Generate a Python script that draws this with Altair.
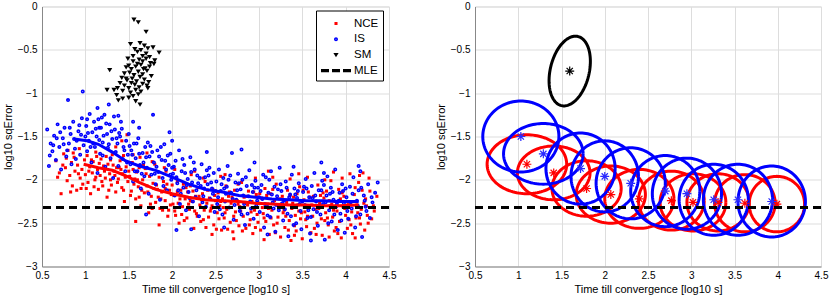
import altair as alt
import numpy as np
import pandas as pd

FONT = "Liberation Sans"

# ---------------- axes ----------------
X_TICKS = [0.5, 1, 1.5, 2, 2.5, 3, 3.5, 4, 4.5]
Y_TICKS = [-3, -2.5, -2, -1.5, -1, -0.5, 0]
X_DOMAIN = [0.5, 4.5]
Y_DOMAIN = [-3, 0]
X_TITLE = "Time till convergence [log10 s]"
Y_TITLE = "log10 sqError"
MLE_LEVEL = -2.32

SERIES = ["NCE", "IS", "SM", "MLE"]
SERIES_COLORS = ["#ff0000", "#0000ff", "#000000", "#000000"]

# ---------------- left panel: scatter ----------------
nce_points = [
    (0.66,-1.78),(0.70,-1.92),(0.72,-2.16),(0.75,-1.70),(0.77,-1.86),(0.79,-2.01),(0.80,-1.66),(0.82,-1.95),
    (0.84,-1.80),(0.85,-2.07),(0.87,-1.74),(0.88,-1.90),(0.90,-2.12),(0.91,-1.83),(0.93,-1.64),(0.94,-1.98),
    (0.96,-1.88),(0.97,-2.05),(0.99,-1.77),(1.00,-1.94),
    (1.02,-1.72),(1.03,-2.03),(1.05,-1.85),(1.06,-2.16),(1.08,-1.92),(1.09,-1.79),(1.11,-2.00),(1.12,-1.68),
    (1.14,-1.88),(1.15,-2.11),(1.17,-1.95),(1.18,-1.76),(1.20,-2.07),(1.21,-1.84),(1.23,-1.98),(1.25,-2.20),
    (1.26,-1.82),(1.28,-1.93),(1.30,-2.06),(1.31,-1.71),(1.33,-1.90),(1.35,-2.14),(1.36,-1.86),(1.38,-1.99),
    (1.40,-1.78),(1.42,-2.09),(1.43,-1.93),(1.45,-2.25),(1.47,-1.85),(1.49,-2.02),(1.48,-1.48),(1.42,-1.55),
    (1.35,-1.62),
    (1.51,-1.96),(1.53,-2.13),(1.54,-1.80),(1.56,-2.05),(1.58,-2.22),(1.59,-1.91),(1.61,-2.08),(1.63,-1.74),
    (1.64,-2.30),(1.66,-2.00),(1.68,-2.15),(1.69,-1.87),(1.71,-2.07),(1.73,-2.38),(1.74,-1.96),(1.76,-2.19),
    (1.78,-2.04),(1.80,-1.82),(1.81,-2.26),(1.83,-2.11),(1.85,-1.97),(1.86,-2.33),(1.88,-2.14),(1.90,-2.02),
    (1.92,-2.24),(1.93,-1.90),(1.95,-2.42),(1.97,-2.12),(1.98,-2.29),(2.00,-2.06),(1.58,-2.48),(1.85,-2.52),
    (2.02,-2.18),(2.03,-2.36),(2.05,-1.98),(2.07,-2.27),(2.08,-2.50),(2.10,-2.12),(2.12,-2.31),(2.13,-2.05),
    (2.15,-2.22),(2.17,-2.44),(2.18,-2.14),(2.20,-2.34),(2.22,-1.94),(2.23,-2.25),(2.25,-2.56),(2.27,-2.19),
    (2.28,-2.39),(2.30,-2.09),(2.32,-2.29),(2.33,-2.48),(2.35,-2.16),(2.37,-2.35),(2.38,-2.02),(2.40,-2.27),
    (2.42,-2.43),(2.43,-2.21),(2.45,-2.33),(2.47,-2.11),(2.48,-2.52),(2.50,-2.24),
    (2.52,-2.38),(2.53,-2.15),(2.55,-2.30),(2.57,-2.58),(2.58,-2.22),(2.60,-2.44),(2.62,-2.07),(2.63,-2.34),
    (2.65,-2.19),(2.67,-2.49),(2.68,-2.27),(2.70,-2.60),(2.72,-2.12),(2.73,-2.37),(2.75,-2.24),(2.77,-2.53),
    (2.78,-2.31),(2.80,-2.03),(2.82,-2.42),(2.83,-2.20),(2.85,-2.56),(2.87,-2.29),(2.88,-2.13),(2.90,-2.46),
    (2.92,-2.25),(2.93,-2.62),(2.95,-2.35),(2.97,-2.17),(2.98,-2.40),(3.00,-2.27),
    (3.02,-2.58),(3.03,-2.21),(3.05,-2.39),(3.07,-2.10),(3.08,-2.48),(3.10,-2.28),(3.12,-2.63),(3.13,-2.16),
    (3.15,-2.35),(3.17,-2.52),(3.18,-2.24),(3.20,-2.05),(3.22,-2.43),(3.23,-2.31),(3.25,-2.66),(3.27,-2.19),
    (3.28,-2.38),(3.30,-2.55),(3.32,-2.26),(3.33,-2.12),(3.35,-2.47),(3.37,-2.70),(3.38,-2.33),(3.40,-2.20),
    (3.42,-2.41),(3.43,-2.59),(3.45,-2.29),(3.47,-2.08),(3.48,-2.45),(3.50,-2.68),
    (3.52,-2.23),(3.53,-2.37),(3.55,-2.54),(3.57,-2.14),(3.58,-2.30),(3.60,-2.61),(3.62,-2.42),(3.63,-2.19),
    (3.65,-2.34),(3.67,-2.50),(3.68,-2.06),(3.70,-2.27),(3.72,-2.45),(3.73,-2.64),(3.75,-2.21),(3.77,-2.38),
    (3.78,-2.13),(3.80,-2.52),(3.82,-2.30),(3.83,-2.01),(3.85,-2.43),(3.87,-2.59),(3.88,-2.25),(3.90,-2.36),
    (3.92,-2.11),(3.93,-2.48),(3.95,-2.67),(3.97,-2.31),(3.98,-2.19),(4.00,-2.41),
    (4.02,-2.56),(4.03,-2.26),(4.05,-1.93),(4.07,-2.37),(4.08,-2.62),(4.10,-2.17),(4.12,-2.44),(4.13,-2.29),
    (4.15,-2.03),(4.17,-2.51),(4.18,-2.34),(4.20,-1.92),(4.22,-2.58),(4.23,-2.22),(4.25,-2.41),(4.28,-2.13),
    (4.32,-2.30),(4.36,-2.19),
    (0.74,-1.83),(0.86,-1.69),(0.95,-2.10),(1.04,-1.90),(1.10,-2.08),(1.16,-1.81),(1.22,-1.90),(1.27,-2.12),
    (1.32,-1.83),(1.37,-2.03),(1.41,-1.88),(1.46,-1.97),(1.52,-2.18),(1.55,-1.88),(1.60,-2.00),(1.65,-2.12),
    (1.70,-1.93),(1.75,-2.28),(1.79,-2.10),(1.84,-2.20),(1.89,-2.35),(1.94,-2.05),(1.99,-2.17),(2.04,-2.41),
    (2.09,-2.22),(2.14,-2.47),(2.19,-2.28),(2.24,-2.13),(2.29,-2.42),(2.34,-2.23),(2.39,-2.55),(2.44,-2.36),
    (2.49,-2.18),(2.54,-2.45),(2.59,-2.32),(2.64,-2.57),(2.69,-2.20),(2.74,-2.47),(2.79,-2.36),(2.84,-2.26),
    (2.89,-2.52),(2.94,-2.14),(2.99,-2.49),(3.04,-2.32),(3.09,-2.18),(3.14,-2.44),(3.19,-2.61),(3.24,-2.22),
    (3.29,-2.35),(3.34,-2.58),(3.39,-2.27),(3.44,-2.16),(3.49,-2.38),(3.54,-2.46),(3.59,-2.20),(3.64,-2.56),
    (3.69,-2.33),(3.74,-2.15),(3.79,-2.44),(3.84,-2.28),(3.89,-2.55),(3.94,-2.22),(3.99,-2.33),(4.04,-2.46),
    (4.09,-2.25),(4.14,-2.38),(4.19,-2.12),(4.24,-2.30),(4.30,-2.45),(1.13,-1.73),(1.29,-1.77),(1.44,-1.72),
    (1.62,-1.86),(1.77,-1.79),(1.91,-1.86),(2.06,-2.02),(2.21,-2.07),(2.36,-1.98),(2.56,-1.96),(2.76,-2.05),
    (2.96,-1.98),(3.16,-1.97),(3.36,-1.99),(3.56,-1.97),(3.76,-2.00),(3.96,-1.98),(4.16,-1.95),(2.46,-2.63),
    (2.71,-2.68),(3.06,-2.69),(3.41,-2.64),(3.81,-2.66),(4.11,-2.67),
    (0.68,-1.97),(0.78,-1.75),(0.83,-2.14),(0.92,-1.93),(1.01,-2.10),(1.07,-1.77),(1.12,-1.97),(1.19,-2.02),
    (1.24,-1.73),(1.29,-2.00),(1.34,-1.95),(1.39,-1.86),(1.44,-2.12),(1.50,-1.90),(1.57,-1.99),(1.62,-2.20),
    (1.67,-1.83),(1.72,-2.14),(1.77,-2.33),(1.82,-2.06),(1.87,-2.22),(1.92,-2.10),(1.96,-2.35),(2.01,-2.28),
    (2.06,-2.14),(2.11,-2.40),(2.16,-2.09),(2.21,-2.24),(2.26,-2.36),(2.31,-2.19),(2.36,-2.46),(2.41,-2.12),
    (2.46,-2.30),(2.51,-2.57),(2.56,-2.25),(2.61,-2.38),(2.66,-2.14),(2.71,-2.42),(2.76,-2.28),(2.81,-2.59),
    (2.86,-2.19),(2.91,-2.37),(2.96,-2.55),(3.01,-2.16),(3.06,-2.44),(3.11,-2.33),(3.16,-2.11),(3.21,-2.50),
    (3.26,-2.28),(3.31,-2.42),(3.36,-2.18),(3.41,-2.53),(3.46,-2.36),(3.51,-2.12),(3.56,-2.42),(3.61,-2.29),
    (3.66,-2.63),(3.71,-2.18),(3.76,-2.47),(3.81,-2.24),(3.86,-2.35),(3.91,-2.62),(3.96,-2.15),(4.01,-2.31),
    (4.06,-2.52),(4.11,-2.09),(4.16,-2.44),(4.21,-2.27),(4.26,-2.50),(4.33,-2.36),(1.55,-1.71),(1.71,-1.69),
    (2.03,-1.88),(2.26,-1.90),(2.61,-1.94),(3.11,-1.90),(3.46,-1.93),(3.86,-1.91),(4.27,-1.98),
]

is_points = [
    (0.56,-1.42),(0.58,-1.84),(0.60,-1.58),(0.62,-1.67),(0.64,-1.49),(0.66,-1.77),(0.68,-1.36),(0.70,-1.62),
    (0.72,-1.88),(0.74,-1.52),(0.76,-1.40),(0.78,-1.73),(0.80,-1.08),(0.81,-1.58),(0.83,-1.47),(0.84,-1.82),
    (0.86,-1.33),(0.88,-1.64),(0.90,-1.55),(0.92,-1.44),(0.94,-1.71),(0.96,-1.29),(0.97,-0.98),(0.98,-1.60),
    (1.00,-1.50),
    (1.01,-1.38),(1.02,-1.67),(1.04,-1.55),(1.05,-1.24),(1.07,-1.80),(1.08,-1.45),(1.10,-1.33),(1.11,-1.62),
    (1.13,-1.50),(1.14,-1.92),(1.16,-1.40),(1.17,-1.70),(1.19,-1.28),(1.20,-1.57),(1.22,-1.25),(1.23,-1.85),
    (1.25,-1.47),(1.26,-1.63),(1.28,-1.36),(1.29,-1.75),(1.31,-1.53),(1.32,-1.98),(1.34,-1.42),(1.35,-1.68),
    (1.37,-1.58),(1.38,-1.84),(1.40,-1.50),(1.41,-1.33),(1.43,-1.76),(1.44,-1.62),(1.46,-1.90),(1.47,-1.55),
    (1.49,-1.71),(1.27,-1.13),(1.18,-1.40),
    (1.50,-1.47),(1.52,-1.82),(1.53,-1.66),(1.55,-2.02),(1.56,-1.58),(1.58,-1.75),(1.60,-1.90),(1.61,-1.52),
    (1.63,-1.83),(1.64,-2.10),(1.66,-1.69),(1.68,-1.96),(1.69,-1.62),(1.71,-1.86),(1.73,-2.16),(1.74,-1.73),
    (1.76,-1.94),(1.78,-1.25),(1.79,-1.80),(1.81,-2.05),(1.83,-1.66),(1.84,-1.91),(1.86,-2.23),(1.88,-1.77),
    (1.89,-1.98),(1.91,-1.59),(1.93,-1.88),(1.94,-2.12),(1.96,-1.83),(1.98,-1.70),(1.99,-2.00),(1.97,-1.45),
    (1.70,-2.40),
    (2.01,-1.93),(2.03,-2.18),(2.04,-1.78),(2.06,-2.04),(2.08,-1.66),(2.09,-2.28),(2.11,-1.90),(2.13,-2.09),
    (2.14,-1.83),(2.16,-2.35),(2.18,-1.99),(2.19,-2.14),(2.21,-1.74),(2.23,-2.03),(2.24,-2.25),(2.26,-1.88),
    (2.28,-2.12),(2.29,-1.95),(2.31,-2.42),(2.33,-2.07),(2.34,-1.82),(2.36,-2.19),(2.38,-1.97),(2.39,-2.31),
    (2.41,-2.05),(2.43,-1.86),(2.44,-2.22),(2.46,-2.10),(2.48,-1.92),(2.49,-2.37),(2.22,-2.57),(2.05,-2.58),
    (2.51,-2.02),(2.53,-2.20),(2.54,-1.88),(2.56,-2.13),(2.58,-2.40),(2.59,-1.98),(2.61,-2.25),(2.63,-2.08),
    (2.64,-1.84),(2.66,-2.32),(2.68,-2.15),(2.69,-1.69),(2.71,-2.46),(2.73,-2.03),(2.74,-2.23),(2.76,-1.93),
    (2.78,-2.36),(2.79,-2.11),(2.81,-2.00),(2.83,-2.28),(2.84,-2.52),(2.86,-2.07),(2.88,-2.19),(2.89,-1.89),
    (2.91,-2.33),(2.93,-2.14),(2.94,-2.45),(2.96,-2.01),(2.98,-2.24),(2.99,-2.09),(2.80,-1.65),
    (3.01,-2.37),(3.03,-2.06),(3.04,-2.22),(3.06,-2.55),(3.08,-1.97),(3.09,-2.30),(3.11,-2.15),(3.13,-2.43),
    (3.14,-1.90),(3.16,-2.26),(3.18,-2.08),(3.19,-2.60),(3.21,-2.19),(3.23,-2.35),(3.24,-1.86),(3.26,-2.13),
    (3.28,-2.47),(3.29,-2.24),(3.31,-2.02),(3.33,-2.39),(3.34,-2.65),(3.36,-2.17),(3.38,-1.94),(3.39,-2.31),
    (3.41,-2.10),(3.43,-2.50),(3.44,-2.21),(3.46,-2.04),(3.48,-2.36),(3.49,-2.57),
    (3.51,-2.14),(3.53,-2.29),(3.54,-1.99),(3.56,-2.44),(3.58,-2.20),(3.59,-2.62),(3.61,-2.07),(3.63,-2.34),
    (3.64,-1.92),(3.66,-2.25),(3.68,-2.53),(3.69,-2.12),(3.71,-2.40),(3.73,-2.01),(3.74,-2.28),(3.76,-2.69),
    (3.78,-2.18),(3.79,-1.96),(3.81,-2.35),(3.83,-2.09),(3.84,-2.48),(3.86,-2.23),(3.88,-1.88),(3.89,-2.31),
    (3.91,-2.58),(3.93,-2.15),(3.94,-2.39),(3.96,-2.05),(3.98,-2.27),(3.99,-2.61),(3.72,-1.80),
    (4.01,-2.20),(4.03,-2.45),(4.05,-2.08),(4.07,-2.33),(4.09,-1.97),(4.11,-2.55),(4.13,-2.24),(4.15,-2.12),
    (4.17,-2.40),(4.19,-2.66),(4.21,-2.18),(4.23,-2.31),(4.26,-2.05),(4.28,-2.44),(4.31,-2.26),(4.34,-2.15),
    (4.37,-2.03),(4.17,-1.90),
    (0.63,-1.60),(0.71,-1.45),(0.79,-1.66),(0.87,-1.53),(0.93,-1.37),(1.03,-1.46),(1.09,-1.58),(1.15,-1.30),
    (1.21,-1.49),(1.27,-1.59),(1.33,-1.27),(1.39,-1.46),(1.45,-1.66),(1.51,-1.61),(1.57,-1.90),(1.62,-1.70),
    (1.67,-1.80),(1.72,-1.57),(1.77,-1.68),(1.82,-1.85),(1.87,-1.62),(1.92,-1.78),(1.98,-1.94),(2.02,-1.85),
    (2.07,-2.12),(2.12,-1.76),(2.17,-2.06),(2.22,-1.91),(2.27,-2.20),(2.32,-1.98),(2.37,-2.10),(2.42,-1.95),
    (2.47,-2.16),(2.52,-2.28),(2.57,-2.05),(2.62,-2.16),(2.67,-1.95),(2.72,-2.29),(2.77,-2.04),(2.82,-2.18),
    (2.87,-2.39),(2.92,-2.06),(2.97,-2.30),(3.02,-2.13),(3.07,-2.28),(3.12,-2.00),(3.17,-2.33),(3.22,-2.11),
    (3.27,-2.27),(3.32,-2.09),(3.37,-2.42),(3.42,-2.17),(3.47,-2.28),(3.52,-2.08),(3.57,-2.35),(3.62,-2.21),
    (3.67,-2.37),(3.72,-2.12),(3.77,-2.26),(3.82,-2.16),(3.87,-2.40),(3.92,-2.24),(3.97,-2.13),(4.02,-2.36),
    (4.08,-2.16),(4.14,-2.30),(4.22,-2.24),
    (0.59,-1.72),(0.67,-1.52),(0.75,-1.59),(0.82,-1.40),(0.89,-1.76),(0.95,-1.48),(1.02,-1.30),(1.06,-1.62),
    (1.12,-1.41),(1.16,-1.54),(1.20,-1.72),(1.24,-1.35),(1.30,-1.44),(1.36,-1.52),(1.42,-1.41),(1.48,-1.80),
    (1.54,-1.71),(1.59,-1.58),(1.65,-1.93),(1.70,-1.74),(1.75,-1.61),(1.80,-1.93),(1.85,-1.73),(1.90,-2.07),
    (1.95,-1.72),(2.00,-1.86),(2.05,-1.97),(2.10,-2.16),(2.15,-1.92),(2.20,-2.21),(2.25,-1.80),(2.30,-2.04),
    (2.35,-2.26),(2.40,-1.89),(2.45,-2.03),(2.50,-2.13),(2.55,-2.34),(2.60,-2.10),(2.65,-2.00),(2.70,-2.22),
    (2.75,-2.12),(2.80,-2.40),(2.85,-1.97),(2.90,-2.25),(2.95,-2.09),(3.00,-2.20),(3.05,-1.94),(3.10,-2.41),
    (3.15,-2.17),(3.20,-2.29),(3.25,-2.05),(3.30,-2.34),(3.35,-2.20),(3.40,-2.52),(3.45,-2.13),(3.50,-2.25),
    (3.55,-2.10),(3.60,-2.43),(3.65,-2.18),(3.70,-2.30),(3.75,-2.06),(3.80,-2.50),(3.85,-2.14),(3.90,-2.28),
    (3.95,-2.47),(4.00,-2.10),(4.06,-2.26),(4.12,-2.42),(4.18,-2.09),(4.24,-2.36),(4.30,-2.20),(1.14,-1.17),
    (1.38,-1.26),(1.55,-1.33),(1.62,-1.40),(2.00,-1.55),(2.40,-1.68),(2.95,-1.80),(3.40,-1.85),(3.75,-1.92),
    (4.15,-1.84),(3.60,-2.70),(3.10,-2.63),(2.60,-2.55),
]

sm_points = [
    (1.56,-0.15),(1.61,-0.18),(1.70,-0.29),(1.52,-0.43),(1.57,-0.49),(1.60,-0.52),(1.64,-0.50),(1.68,-0.45),
    (1.72,-0.48),(1.78,-0.47),(1.66,-0.57),(1.70,-0.60),(1.74,-0.58),(1.62,-0.61),(1.55,-0.63),(1.50,-0.68),
    (1.47,-0.70),(1.53,-0.72),(1.58,-0.69),(1.64,-0.67),(1.69,-0.71),(1.75,-0.65),(1.80,-0.62),(1.45,-0.77),
    (1.51,-0.76),(1.56,-0.79),(1.61,-0.75),(1.66,-0.78),(1.71,-0.74),(1.76,-0.80),(1.28,-0.73),(1.42,-0.82),
    (1.48,-0.85),(1.54,-0.83),(1.59,-0.86),(1.63,-0.81),(1.68,-0.84),(1.73,-0.87),(1.40,-0.88),(1.45,-0.91),
    (1.50,-0.94),(1.57,-0.90),(1.62,-0.93),(1.66,-0.89),(1.71,-0.91),(1.37,-0.94),(1.43,-0.97),(1.52,-0.99),
    (1.58,-0.96),(1.64,-0.98),(1.25,-0.96),(1.33,-0.96),(1.38,-1.08),(1.43,-1.06),(1.55,-1.03),(1.50,-1.05),
    (1.61,-1.01),(1.63,-1.13),(1.72,-0.94),(1.55,-0.57),(1.66,-0.63),(1.60,-0.66),(1.67,-0.72),(1.53,-0.88),
    (1.47,-0.83),(1.58,-1.09),(1.74,-0.69),(1.70,-0.54),(1.63,-0.42),(1.79,-0.66),(1.85,-0.53),(1.49,-0.60),
    (1.36,-1.02),
]

# smoothed trend lines (left panel)
is_trend_x = [0.87, 1.02, 1.15, 1.31, 1.46, 1.62, 1.81, 2.00, 2.19, 2.38, 2.58, 2.77, 2.96, 3.15, 3.35, 3.54, 3.73, 3.92, 4.15]
is_trend_y = [-1.53, -1.55, -1.59, -1.68, -1.78, -1.84, -1.89, -1.97, -2.05, -2.11, -2.14, -2.18, -2.20, -2.22, -2.23, -2.24, -2.24, -2.25, -2.25]
nce_trend_x = [0.98, 1.15, 1.31, 1.46, 1.62, 1.81, 2.00, 2.19, 2.38, 2.58, 2.77, 2.96, 3.15, 3.35, 3.54, 3.73, 3.92, 4.15]
nce_trend_y = [-1.82, -1.86, -1.89, -1.95, -2.03, -2.11, -2.16, -2.20, -2.23, -2.24, -2.25, -2.27, -2.28, -2.29, -2.29, -2.30, -2.30, -2.29]

# ---------------- right panel: mean (star) and spread ellipses ----------------
nce_cx = [1.10, 1.41, 1.79, 2.07, 2.40, 2.77, 3.02, 3.31, 3.62, 3.99]
nce_cy = [-1.82, -1.92, -2.10, -2.17, -2.22, -2.24, -2.26, -2.26, -2.27, -2.28]
nce_rx = [0.46, 0.42, 0.40, 0.40, 0.40, 0.38, 0.38, 0.36, 0.35, 0.32]
nce_ry = [0.34, 0.31, 0.32, 0.33, 0.34, 0.34, 0.33, 0.33, 0.33, 0.32]

is_cx = [1.03, 1.29, 1.72, 2.00, 2.30, 2.70, 2.95, 3.26, 3.54, 3.93]
is_cy = [-1.50, -1.70, -1.87, -1.96, -2.04, -2.13, -2.16, -2.23, -2.23, -2.25]
is_rx = [0.44, 0.46, 0.40, 0.39, 0.40, 0.40, 0.40, 0.40, 0.40, 0.39]
is_ry = [0.41, 0.35, 0.41, 0.41, 0.41, 0.41, 0.41, 0.41, 0.41, 0.41]

sm_cx = [1.595]
sm_cy = [-0.745]
sm_major = [0.41]
sm_minor = [0.225]
sm_angle_deg = [76.5]

# ---------------- styling ----------------
W_LEFT, W_RIGHT, H = 347, 346, 260
MARK_SIZE = 324  # custom paths below are drawn in units of sqrt(size)/2 = 9 px
SQUARE = "M-0.17,-0.17H0.17V0.17H-0.17Z"
RING = ("M-0.22,0A0.22,0.22,0,1,1,0.22,0A0.22,0.22,0,1,1,-0.22,0Z"
        "M-0.05,0A0.05,0.05,0,1,0,0.05,0A0.05,0.05,0,1,0,-0.05,0Z")
TRI_DOWN = "M-0.29,-0.21L0.29,-0.21L0,0.27Z"
DASHES = ("M-1.667,-0.17H-0.778V0.17H-1.667Z"
          "M-0.444,-0.17H0.444V0.17H-0.444Z"
          "M0.778,-0.17H1.667V0.17H0.778Z")
SHAPES = [SQUARE, RING, TRI_DOWN, DASHES]
STAR = "M0,-1L0,1M-1,0L1,0M-0.7,-0.7L0.7,0.7M-0.7,0.7L0.7,-0.7"


def xscale():
    return alt.Scale(domain=X_DOMAIN, nice=False, zero=False)


def yscale():
    return alt.Scale(domain=Y_DOMAIN, nice=False, zero=False)


def xaxis():
    return alt.Axis(values=X_TICKS, format="~g", title=X_TITLE, grid=True, ticks=False,
                    labelPadding=4, titlePadding=3, labelFlush=False, titleFontWeight="normal")


def yaxis():
    return alt.Axis(values=Y_TICKS, format="~g", title=Y_TITLE, grid=True, ticks=False,
                    labelPadding=5, titlePadding=4, labelFlush=False, titleFontWeight="normal")


def pts_frame(points, name):
    return pd.DataFrame({"x": [p[0] for p in points], "y": [p[1] for p in points], "series": name})


scatter_df = pd.concat([pts_frame(nce_points, "NCE"), pts_frame(is_points, "IS"),
                        pts_frame(sm_points, "SM")], ignore_index=True)

legend = alt.Legend(title=None, orient="none", legendX=274, legendY=4, padding=4,
                    strokeColor="black", fillColor="white", symbolSize=MARK_SIZE,
                    symbolOffset=7, labelOffset=9, rowPadding=0.7, labelFontSize=11.5,
                    labelFont=FONT, labelColor="black", symbolStrokeWidth=0, symbolOpacity=1)

scatter = alt.Chart(scatter_df).mark_point(filled=True, size=MARK_SIZE, opacity=1).encode(
    x=alt.X("x:Q", scale=xscale(), axis=xaxis()),
    y=alt.Y("y:Q", scale=yscale(), axis=yaxis()),
    color=alt.Color("series:N", scale=alt.Scale(domain=SERIES, range=SERIES_COLORS), legend=legend),
    shape=alt.Shape("series:N", scale=alt.Scale(domain=SERIES, range=SHAPES), legend=legend),
)

is_trend = alt.Chart(pd.DataFrame({"x": is_trend_x, "y": is_trend_y})).mark_line(
    color="#0000ff", strokeWidth=3).encode(x="x:Q", y="y:Q")
nce_trend = alt.Chart(pd.DataFrame({"x": nce_trend_x, "y": nce_trend_y})).mark_line(
    color="#ff0000", strokeWidth=3).encode(x="x:Q", y="y:Q")


def mle_rule():
    return alt.Chart(pd.DataFrame({"y": [MLE_LEVEL]})).mark_rule(
        color="black", strokeWidth=3, strokeDash=[8, 5]).encode(y="y:Q")


left = alt.layer(scatter, is_trend, nce_trend, mle_rule()).properties(width=W_LEFT, height=H)

# ellipse outlines from centre / semi-axes / orientation
T = np.linspace(0, 2 * np.pi, 121)


def ellipse_frame(cx, cy, ax, by, angles, group):
    rows = []
    for i in range(len(cx)):
        phi = np.deg2rad(angles[i])
        ex = cx[i] + ax[i] * np.cos(T) * np.cos(phi) - by[i] * np.sin(T) * np.sin(phi)
        ey = cy[i] + ax[i] * np.cos(T) * np.sin(phi) + by[i] * np.sin(T) * np.cos(phi)
        for k in range(len(T)):
            rows.append({"x": ex[k], "y": ey[k], "eid": f"{group}{i}", "k": k})
    return pd.DataFrame(rows)


nce_ell = ellipse_frame(nce_cx, nce_cy, nce_rx, nce_ry, [0] * len(nce_cx), "NCE")
is_ell = ellipse_frame(is_cx, is_cy, is_rx, is_ry, [0] * len(is_cx), "IS")
sm_ell = ellipse_frame(sm_cx, sm_cy, sm_major, sm_minor, sm_angle_deg, "SM")


def ell_layer(df, color):
    return alt.Chart(df).mark_line(color=color, strokeWidth=3).encode(
        x=alt.X("x:Q", scale=xscale(), axis=xaxis()),
        y=alt.Y("y:Q", scale=yscale(), axis=yaxis()),
        detail="eid:N", order="k:Q")


def star_layer(cx, cy, color):
    return alt.Chart(pd.DataFrame({"x": cx, "y": cy})).mark_point(
        shape=STAR, size=80, filled=False, color=color, strokeWidth=1.2, opacity=1
    ).encode(x="x:Q", y="y:Q")


right = alt.layer(
    ell_layer(nce_ell, "#ff0000"),
    ell_layer(is_ell, "#0000ff"),
    ell_layer(sm_ell, "#000000"),
    star_layer(nce_cx, nce_cy, "#ff0000"),
    star_layer(is_cx, is_cy, "#2a2aff"),
    star_layer(sm_cx, sm_cy, "#000000"),
    mle_rule(),
).properties(width=W_RIGHT, height=H)

chart = alt.hconcat(left, right, spacing=37).properties(
    padding={"left": 1, "top": 0.5, "right": 0, "bottom": 0}
).configure_view(
    stroke="black", strokeWidth=1
).configure_axis(
    labelFont=FONT, titleFont=FONT, labelFontSize=11.5, titleFontSize=11.5,
    labelColor="black", titleColor="black", titleFontWeight="normal",
    domainColor="black", domainWidth=1,
    gridColor="#000000", gridOpacity=0.55, gridDash=[1, 3], gridWidth=1,
).configure(background="white")

chart.save("out.html", embed_options={"renderer": "svg", "actions": False})
